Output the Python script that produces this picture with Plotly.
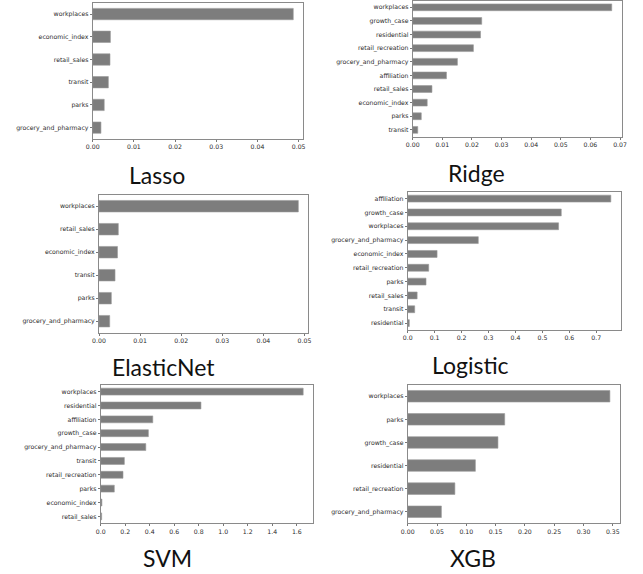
import plotly.graph_objects as go

W, H = 643, 574

# ---- data (top-to-bottom order as displayed) ----
lasso_features = ["workplaces", "economic_index", "retail_sales", "transit", "parks", "grocery_and_pharmacy"]
lasso_values = [0.0487, 0.0043, 0.0042, 0.0038, 0.0028, 0.0020]

ridge_features = ["workplaces", "growth_case", "residential", "retail_recreation", "grocery_and_pharmacy",
                  "affiliation", "retail_sales", "economic_index", "parks", "transit"]
ridge_values = [0.0672, 0.0233, 0.0229, 0.0205, 0.0151, 0.0114, 0.0065, 0.0049, 0.0029, 0.0017]

enet_features = ["workplaces", "retail_sales", "economic_index", "transit", "parks", "grocery_and_pharmacy"]
enet_values = [0.0485, 0.0047, 0.0045, 0.0039, 0.0030, 0.0026]

logit_features = ["affiliation", "growth_case", "workplaces", "grocery_and_pharmacy", "economic_index",
                  "retail_recreation", "parks", "retail_sales", "transit", "residential"]
logit_values = [0.754, 0.570, 0.560, 0.262, 0.109, 0.078, 0.068, 0.035, 0.026, 0.006]

svm_features = ["workplaces", "residential", "affiliation", "growth_case", "grocery_and_pharmacy",
                "transit", "retail_recreation", "parks", "economic_index", "retail_sales"]
svm_values = [1.652, 0.818, 0.425, 0.389, 0.368, 0.193, 0.182, 0.111, 0.010, 0.008]

xgb_features = ["workplaces", "parks", "growth_case", "residential", "retail_recreation", "grocery_and_pharmacy"]
xgb_values = [0.345, 0.1655, 0.154, 0.1155, 0.0805, 0.0575]

titles = ["Lasso", "Ridge", "ElasticNet", "Logistic", "SVM", "XGB"]
x_dtick = [0.01, 0.01, 0.01, 0.1, 0.2, 0.05]
x_fmt = [".2f", ".2f", ".2f", ".1f", ".1f", ".2f"]

panels = [
    (lasso_features, lasso_values),
    (ridge_features, ridge_values),
    (enet_features, enet_values),
    (logit_features, logit_values),
    (svm_features, svm_values),
    (xgb_features, xgb_values),
]

# plot-area pixel boxes (left, right, top, bottom)
boxes = [
    (92.7, 303.3, 2.7, 139.0),
    (412.7, 621.7, 0.5, 136.7),
    (99.0, 308.3, 194.7, 332.7),
    (407.7, 621.0, 191.7, 330.0),
    (100.7, 313.3, 384.7, 523.3),
    (407.7, 620.0, 384.7, 523.3),
]
# title centre positions in px
title_pos = [(157, 175), (477, 173), (163, 367), (470, 365), (167, 558), (473, 558)]

fig = go.Figure()
tick_font = dict(family="DejaVu Sans", size=6.2, color="#2a2a2a")

for i, ((feats, vals), box) in enumerate(zip(panels, boxes)):
    n = len(feats)
    ax = "" if i == 0 else str(i + 1)
    fig.add_trace(go.Bar(
        x=vals, y=list(range(n)), orientation="h", width=0.5,
        marker=dict(color="#7d7d7d", line=dict(color="#9a9a9a", width=0.6)),
        xaxis="x" + ax, yaxis="y" + ax, showlegend=False, hoverinfo="skip",
    ))
    l, r, t, b = box
    xmax = max(vals) * 1.05
    fig.layout["xaxis" + ax] = dict(
        domain=[l / W, r / W], range=[0, xmax], anchor="y" + ax,
        dtick=x_dtick[i], tick0=0, tickformat=x_fmt[i],
        ticks="outside", ticklen=2, tickcolor="#555", tickwidth=0.8,
        showgrid=False, zeroline=False, showline=True, linecolor="#8a8a8a", linewidth=1,
        mirror=True, tickfont=tick_font, fixedrange=True, automargin=False,
    )
    fig.layout["yaxis" + ax] = dict(
        domain=[1 - b / H, 1 - t / H], range=[n - 0.5, -0.5], anchor="x" + ax,
        tickvals=list(range(n)), ticktext=feats,
        ticks="outside", ticklen=2, tickcolor="#555", tickwidth=0.8,
        showgrid=False, zeroline=False, showline=True, linecolor="#8a8a8a", linewidth=1,
        mirror=True, tickfont=tick_font, fixedrange=True, automargin=False,
    )
    tx, ty = title_pos[i]
    fig.add_annotation(text=titles[i], x=tx / W, y=1 - ty / H, xref="paper", yref="paper",
                       xanchor="center", yanchor="middle", showarrow=False,
                       font=dict(family="Lato", size=23, color="#111111"))

fig.update_layout(
    width=W, height=H, margin=dict(l=0, r=0, t=0, b=0, pad=0),
    paper_bgcolor="white", plot_bgcolor="white", bargap=0, hovermode=False,
)

fig.write_html("out.html", config={"displayModeBar": False, "staticPlot": True},
               post_script="document.body.style.margin='0';document.body.style.overflow='hidden';")
